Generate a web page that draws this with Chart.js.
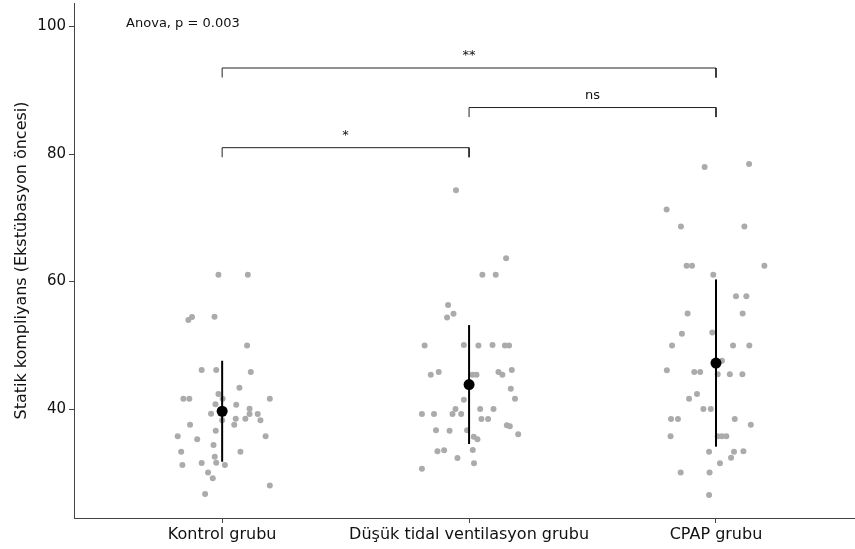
<!DOCTYPE html>
<html>
<head>
<meta charset="utf-8">
<script src="https://cdn.jsdelivr.net/npm/chart.js@4"></script>
<style>
  html, body { margin: 0; padding: 0; background: #fff; }
  #wrap { width: 855px; height: 549px; }
</style>
</head>
<body>
<div id="wrap"><canvas id="complianceChart"></canvas></div>
<script>
// ================= DATA =================
const groups = ["Kontrol grubu", "Düşük tidal ventilasyon grubu", "CPAP grubu"];
const yTicks = [40, 60, 80, 100];

// jitter offsets (category units) and values
const ctrlJitter = [-0.015,0.104,-0.137,-0.122,-0.031,0.101,-0.083,-0.024,0.116,0.070,-0.015,-0.157,-0.133,0.002,0.193,-0.027,0.057,0.111,0.144,-0.045,0.111,0.094,0.055,0.155,0,-0.130,0.049,-0.026,-0.180,-0.101,0.176,-0.035,-0.166,0.074,-0.030,-0.161,-0.083,-0.024,0.011,-0.057,-0.038,0.193,-0.069];
const ctrlValues = [61.05,61.05,53.95,54.42,54.47,49.98,46.11,46.11,45.80,43.34,42.35,41.61,41.61,41.61,41.61,40.74,40.67,40.05,39.22,39.26,39.22,38.48,38.48,38.23,38.23,37.54,37.54,36.60,35.72,35.25,35.72,34.36,33.31,33.31,32.52,31.22,31.54,31.58,31.22,30.02,29.14,27.98,26.68];

const dusukJitter = [-0.053,0.150,0.054,0.108,-0.085,-0.063,-0.089,-0.180,-0.021,0.038,0.095,0.145,0.162,-0.155,-0.123,0.014,0.030,0.119,0.135,0.173,0.169,-0.021,0.186,-0.055,0.045,0.099,-0.191,-0.142,-0.067,-0.032,0.050,0.077,0.153,0.165,-0.134,-0.079,-0.008,0.199,0.019,0.034,-0.128,-0.101,0.015,-0.047,0.020,-0.191];
const dusukValues = [74.33,63.67,61.05,61.05,56.30,54.94,54.37,49.98,50.03,49.98,50.03,49.98,49.98,45.38,45.80,45.38,45.38,45.80,45.38,46.11,43.18,41.46,41.61,40.0,40.0,40.0,39.22,39.22,39.22,39.22,38.43,38.43,37.45,37.29,36.66,36.60,36.66,36.03,35.66,35.25,33.37,33.53,33.57,32.32,31.49,30.64];

const cpapJitter = [-0.046,0.134,-0.200,-0.142,0.115,-0.119,-0.097,0.196,-0.011,0.081,0.123,-0.115,0.108,-0.138,-0.015,-0.178,0.069,0.135,0.024,-0.199,-0.088,-0.064,0.007,0.056,0.107,-0.077,-0.109,-0.051,-0.021,-0.182,-0.154,0.076,0.141,-0.184,0.007,0.024,0.042,-0.028,0.073,0.111,0.061,0.016,-0.143,-0.026,-0.028];
const cpapValues = [77.98,78.45,71.30,68.64,68.64,62.46,62.46,62.46,61.05,57.71,57.71,55.0,55.0,51.80,52.02,49.98,49.98,49.98,47.57,46.07,45.80,45.80,45.44,45.44,45.44,42.35,41.61,40.0,40.0,38.43,38.43,38.43,37.54,35.72,35.72,35.72,35.72,33.31,33.31,33.37,32.37,31.49,30.02,30.02,26.52];

// mean +/- sd per group
const groupMeans = [39.65, 43.84, 47.21];
const groupSds = [7.92, 9.33, 13.12];

// pairwise comparison brackets
const bracketFrom = [1, 2, 1];
const bracketTo = [2, 3, 3];
const bracketLevel = [81.0, 87.3, 93.5];
const bracketLabels = ["*", "ns", "**"];
const bracketTip = 1.5;

const anovaLabel = "Anova, p = 0.003";

// ================= BUILD DATASETS =================
const jitters = [ctrlJitter, dusukJitter, cpapJitter];
const values = [ctrlValues, dusukValues, cpapValues];

const rawPoints = [];
values.forEach((vals, g) => {
  vals.forEach((v, i) => rawPoints.push({ x: g + 1 + jitters[g][i], y: v }));
});

const errorBars = groupMeans.map((m, g) => ({
  type: "line",
  data: [{ x: g + 1, y: m - groupSds[g] }, { x: g + 1, y: m + groupSds[g] }],
  borderColor: "#000",
  borderWidth: 2,
  pointRadius: 0,
  order: 2
}));

const brackets = bracketFrom.map((a, i) => ({
  type: "line",
  data: [
    { x: a, y: bracketLevel[i] - bracketTip },
    { x: a, y: bracketLevel[i] },
    { x: bracketTo[i], y: bracketLevel[i] },
    { x: bracketTo[i], y: bracketLevel[i] - bracketTip }
  ],
  borderColor: "#222",
  borderWidth: 1,
  pointRadius: 0,
  order: 4
}));

// ================= TEXT LABELS =================
const textPlugin = {
  id: "textLabels",
  afterDatasetsDraw(chart) {
    const { ctx, scales } = chart;
    ctx.save();
    ctx.fillStyle = "#111";
    ctx.font = "13px 'DejaVu Sans'";
    ctx.textAlign = "center";
    ctx.textBaseline = "alphabetic";
    bracketLabels.forEach((lab, i) => {
      const x = scales.x.getPixelForValue((bracketFrom[i] + bracketTo[i]) / 2);
      const y = scales.y.getPixelForValue(bracketLevel[i]) - 9;
      ctx.fillText(lab, x, y);
    });
    ctx.textAlign = "left";
    ctx.fillText(anovaLabel, scales.x.getPixelForValue(0.611), scales.y.getPixelForValue(100));
    ctx.restore();
  }
};

// ================= CHART =================
const axisColor = "#444";

new Chart(document.getElementById("complianceChart"), {
  type: "scatter",
  data: {
    datasets: [
      {
        data: rawPoints,
        backgroundColor: "#ababab",
        borderWidth: 0,
        pointRadius: 3,
        order: 3
      },
      ...errorBars,
      {
        data: groupMeans.map((m, g) => ({ x: g + 1, y: m })),
        backgroundColor: "#000",
        borderWidth: 0,
        pointRadius: 5.5,
        order: 1
      },
      ...brackets
    ]
  },
  options: {
    responsive: true,
    maintainAspectRatio: false,
    animation: false,
    events: [],
    layout: { autoPadding: false, padding: { top: 3, right: 0, left: 0, bottom: 0 } },
    plugins: {
      legend: { display: false },
      tooltip: { enabled: false }
    },
    scales: {
      x: {
        type: "linear",
        min: 0.4,
        max: 3.563,
        afterBuildTicks: s => { s.ticks = [1, 2, 3].map(v => ({ value: v })); },
        afterFit: s => { s.height = 31; s.paddingLeft = 0; s.paddingRight = 0; },
        ticks: {
          callback: v => groups[v - 1],
          color: "#111",
          font: { family: "DejaVu Sans", size: 16 },
          padding: 2,
          maxRotation: 0,
          autoSkip: false
        },
        grid: { drawOnChartArea: false, drawTicks: true, tickLength: 5, color: axisColor },
        border: { display: true, color: axisColor, width: 1 }
      },
      y: {
        min: 22.9,
        max: 103.7,
        afterBuildTicks: s => { s.ticks = yTicks.map(v => ({ value: v })); },
        afterFit: s => { s.width = 74; s.paddingTop = 0; s.paddingBottom = 0; },
        ticks: {
          color: "#111",
          font: { family: "DejaVu Sans", size: 15 },
          padding: 3
        },
        title: {
          display: true,
          text: "Statik kompliyans (Ekstübasyon öncesi)",
          color: "#111",
          font: { family: "DejaVu Sans", size: 16 },
          padding: { top: 12, bottom: 0 }
        },
        grid: { drawOnChartArea: false, drawTicks: true, tickLength: 5, color: axisColor },
        border: { display: true, color: axisColor, width: 1 }
      }
    }
  },
  plugins: [textPlugin]
});
</script>
</body>
</html>
